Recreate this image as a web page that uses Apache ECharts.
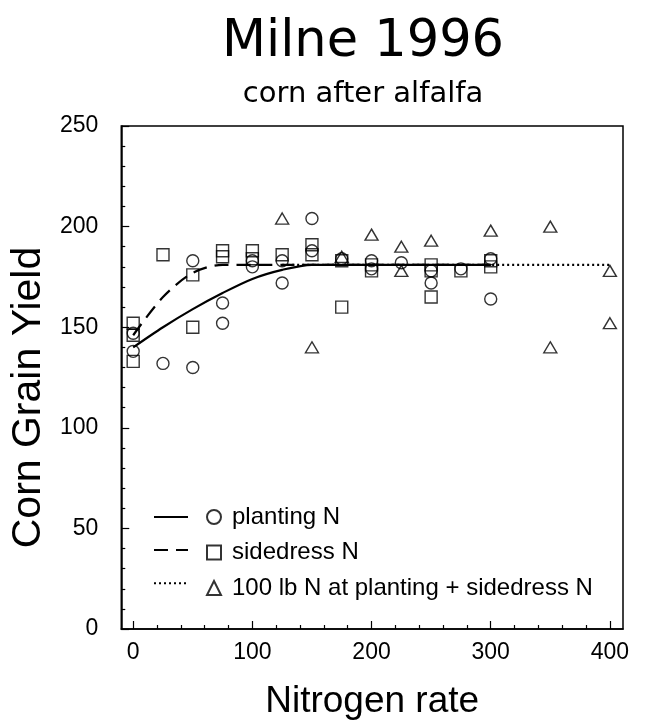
<!DOCTYPE html>
<html>
<head>
<meta charset="utf-8">
<style>
  html, body { margin: 0; padding: 0; background: #fff; }
  #chart { width: 647px; height: 725px; }
</style>
<script src="https://cdn.jsdelivr.net/npm/echarts@6/dist/echarts.min.js"></script>
</head>
<body>
<div id="chart"></div>
<script>
// Tick labels
const xTickLabels = [0, 100, 200, 300, 400];
const xMinorTicks = [20, 40, 60, 80, 120, 140, 160, 180, 220, 240, 260, 280, 320, 340, 360, 380];
const yTickLabels = [0, 50, 100, 150, 200, 250];

// Observed yields [N rate, yield]
const plantingN = [
  [0, 147], [0, 138], [25, 132], [50, 130], [50, 183], [75, 162], [75, 152],
  [100, 183], [100, 180], [125, 172], [125, 183], [150, 204], [150, 188],
  [175, 184], [200, 183], [200, 179], [225, 182], [250, 172], [250, 178],
  [275, 179], [300, 164], [300, 184]
];
const sidedressN = [
  [0, 152], [0, 146], [0, 133], [25, 186], [50, 150], [50, 176], [75, 188],
  [75, 185], [100, 188], [100, 184], [125, 186], [150, 191], [150, 186],
  [175, 183], [175, 160], [200, 181], [200, 178], [250, 181], [250, 178],
  [250, 165], [275, 178], [300, 183], [300, 180]
];
const comboN = [
  [125, 204], [150, 140], [175, 185], [200, 196], [225, 190], [225, 178],
  [250, 193], [300, 198], [350, 200], [350, 140], [400, 178], [400, 152]
];

// Fitted response curves (quadratic-plateau)
const plantingFit = [[0, 140], [25, 150], [50, 159], [75, 167], [100, 174], [125, 178.5], [150, 181], [175, 181], [300, 181]];
const sidedressFit = [[0, 146], [25, 165], [50, 177], [75, 181], [100, 181], [300, 181]];
const comboFit = [[125, 181], [400, 181]];

const seriesNames = ['planting N', 'sidedress N', '100 lb N at planting + sidedress N'];
const fitNames = ['planting N fit', 'sidedress N fit', 'combined fit'];

const bodyFont = '"Liberation Sans", Arial, sans-serif';
const titleFont = '"DejaVu Sans", sans-serif';
const black = '#000';

const chart = echarts.init(document.getElementById('chart'), null, { renderer: 'canvas' });

const markerStyle = { color: 'rgba(0,0,0,0)', borderColor: black, borderWidth: 1.4 };
const hidden = 'rgba(0,0,0,0)';

chart.setOption({
  backgroundColor: '#fff',
  animation: false,
  title: {
    text: 'Milne 1996',
    subtext: 'corn after alfalfa',
    left: 358,
    textAlign: 'center',
    top: 12,
    itemGap: 12,
    textStyle: { fontFamily: titleFont, fontSize: 51, fontWeight: 'normal', color: black },
    subtextStyle: { fontFamily: titleFont, fontSize: 29, color: black }
  },
  grid: {
    left: 114, right: 24, top: 126, bottom: 92,
    show: true, borderColor: black, borderWidth: 1.5, backgroundColor: 'transparent'
  },
  legend: [
    {
      data: fitNames,
      orient: 'vertical',
      left: 148, top: 500,
      itemWidth: 34, itemHeight: 24, itemGap: 11.5,
      formatter: () => '',
      selectedMode: false,
      itemStyle: { color: hidden, borderColor: hidden, borderWidth: 0 },
      textStyle: { fontSize: 1 }
    },
    {
      data: seriesNames,
      orient: 'vertical',
      left: 201, top: 500,
      itemWidth: 14, itemHeight: 14, itemGap: 11.5,
      selectedMode: false,
      textStyle: { fontFamily: bodyFont, fontSize: 24, color: black, padding: [0, 0, 0, 6] }
    }
  ],
  xAxis: [
    {
      type: 'value', min: -10, max: 411,
      name: 'Nitrogen rate', nameLocation: 'middle', nameGap: 54,
      nameTextStyle: { fontFamily: bodyFont, fontSize: 37, color: black },
      axisLine: { show: true, onZero: false, lineStyle: { color: black, width: 1.5 } },
      axisTick: { show: true, inside: true, length: 8, customValues: xTickLabels, lineStyle: { color: black, width: 1.2 } },
      axisLabel: { customValues: xTickLabels, margin: 12, fontFamily: bodyFont, fontSize: 23, color: black },
      splitLine: { show: false }
    },
    {
      type: 'value', min: -10, max: 411, position: 'bottom',
      axisLine: { show: false, onZero: false },
      axisTick: { show: true, inside: true, length: 4, customValues: xMinorTicks, lineStyle: { color: black, width: 1.2 } },
      axisLabel: { show: false },
      splitLine: { show: false }
    }
  ],
  yAxis: {
    type: 'value', min: 0, max: 250, interval: 50,
    name: 'Corn Grain Yield', nameLocation: 'middle', nameGap: 60,
    nameTextStyle: { fontFamily: bodyFont, fontSize: 41, color: black, padding: [0, 40, 0, 0] },
    axisLine: { show: true, onZero: false, lineStyle: { color: black, width: 1.5 } },
    axisTick: { show: true, inside: true, length: 8, lineStyle: { color: black, width: 1.2 } },
    minorTick: { show: true, splitNumber: 5, length: 4, lineStyle: { color: black, width: 1.2 } },
    axisLabel: { margin: 23, fontFamily: bodyFont, fontSize: 23, color: black },
    splitLine: { show: false }
  },
  series: [
    {
      name: fitNames[0], type: 'line', data: plantingFit, symbol: 'none',
      smooth: 0.3, itemStyle: { color: black },
      lineStyle: { color: black, width: 2.2, type: 'solid' }, z: 3
    },
    {
      name: fitNames[1], type: 'line', data: sidedressFit, symbol: 'none',
      smooth: 0.3, itemStyle: { color: black },
      lineStyle: { color: black, width: 2.2, type: [14, 8] }, z: 3
    },
    {
      name: fitNames[2], type: 'line', data: comboFit, symbol: 'none',
      itemStyle: { color: black },
      lineStyle: { color: black, width: 2.2, type: [2, 3] }, z: 2
    },
    {
      name: seriesNames[0], type: 'scatter', data: plantingN,
      symbol: 'circle', symbolSize: 12, itemStyle: markerStyle, z: 4
    },
    {
      name: seriesNames[1], type: 'scatter', data: sidedressN,
      symbol: 'rect', symbolSize: 12, itemStyle: markerStyle, z: 4
    },
    {
      name: seriesNames[2], type: 'scatter', data: comboN,
      symbol: 'triangle', symbolSize: [13, 11], itemStyle: markerStyle, z: 4
    }
  ]
});
</script>
</body>
</html>
